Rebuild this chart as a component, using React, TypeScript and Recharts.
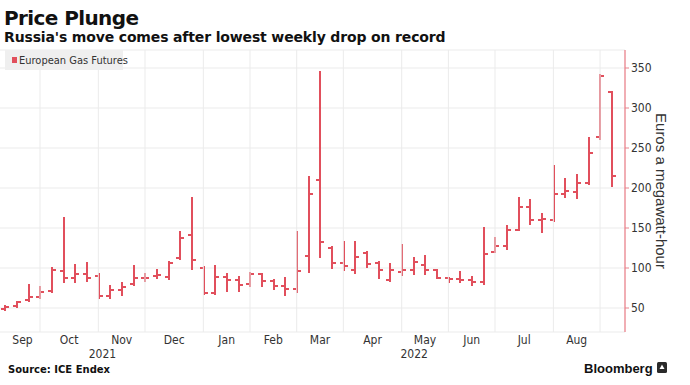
import { ComposedChart, Bar, XAxis, YAxis, CartesianGrid, ReferenceLine } from 'recharts';

// weekly bars, dated by the Friday that ends each week
const weeks = [
  '2021-09-03', '2021-09-10', '2021-09-17', '2021-09-24',
  '2021-10-01', '2021-10-08', '2021-10-15', '2021-10-22', '2021-10-29',
  '2021-11-05', '2021-11-12', '2021-11-19', '2021-11-26',
  '2021-12-03', '2021-12-10', '2021-12-17', '2021-12-24', '2021-12-31',
  '2022-01-07', '2022-01-14', '2022-01-21', '2022-01-28',
  '2022-02-04', '2022-02-11', '2022-02-18', '2022-02-25',
  '2022-03-04', '2022-03-11', '2022-03-18', '2022-03-25',
  '2022-04-01', '2022-04-08', '2022-04-15', '2022-04-22', '2022-04-29',
  '2022-05-06', '2022-05-13', '2022-05-20', '2022-05-27',
  '2022-06-03', '2022-06-10', '2022-06-17', '2022-06-24',
  '2022-07-01', '2022-07-08', '2022-07-15', '2022-07-22', '2022-07-29',
  '2022-08-05', '2022-08-12', '2022-08-19', '2022-08-26',
  '2022-09-02',
];

const open = [
  49, 52, 60, 64, 71, 96, 88, 93, 90, 65, 72, 80, 88, 90, 89, 112, 141, 100,
  69, 89, 85, 80, 92, 84, 78, 74, 115, 210, 125, 106, 98, 119, 106, 85, 95,
  97, 104, 98, 87, 86, 85, 82, 120, 128, 148, 176, 160, 160, 192, 195, 206,
  264, 320,
];
const high = [
  52, 58, 79, 76, 100, 162, 104, 106, 92, 77, 81, 102, 93, 97, 108, 145, 187,
  101, 102, 92, 89, 94, 92, 85, 88, 145, 214, 345, 126, 132, 133, 120, 108,
  105, 129, 112, 115, 98, 88, 95, 89, 150, 137, 153, 187, 185, 168, 228, 211,
  216, 263, 341, 320,
];
const low = [
  48, 51, 59, 63, 70, 83, 83, 84, 63, 62, 66, 79, 84, 88, 86, 111, 99, 68, 67,
  71, 71, 78, 77, 74, 66, 70, 95, 114, 100, 98, 94, 101, 87, 84, 91, 93, 93,
  88, 82, 82, 79, 80, 120, 124, 147, 155, 145, 159, 189, 188, 205, 261, 203,
];
const close = [
  51, 57, 64, 70, 98, 88, 93, 88, 65, 72, 76, 88, 88, 91, 106, 138, 110, 69,
  89, 85, 79, 92, 84, 78, 74, 96, 193, 132, 106, 102, 114, 105, 97, 97, 97,
  107, 98, 88, 86, 85, 82, 118, 128, 147, 176, 160, 161, 192, 196, 206, 244,
  340, 215,
];

const monthTicks = [1.5, 5.5, 10, 14.5, 19, 23, 27, 31.5, 36, 40, 44.5, 49];
const monthLabels = ['Sep', 'Oct', 'Nov', 'Dec', 'Jan', 'Feb', 'Mar', 'Apr', 'May', 'Jun', 'Jul', 'Aug'];
const yearTicks = [8.35, 35.07];
const yearLabels = ['2021', '2022'];
const priceTicks = [50, 100, 150, 200, 250, 300, 350];

const RED = '#e14f5c';
const AXIS_RED = '#e9838c';
const COND = '"DejaVu Sans Condensed", "DejaVu Sans", sans-serif';
const VERD = '"DejaVu Sans", Verdana, sans-serif';

const data = weeks.map((week, i) => ({
  i,
  week,
  open: open[i],
  high: high[i],
  low: low[i],
  close: close[i],
  range: [low[i], high[i]],
}));

// last bar of each month gets a vertical grid line
const monthEnds = weeks
  .map((w, i) => (i < weeks.length - 1 && weeks[i + 1].slice(5, 7) !== w.slice(5, 7) ? i : -1))
  .filter((i) => i >= 0);

function OhlcBar(props: any) {
  const { x, y, width, height, payload } = props;
  if (x == null || y == null || !payload) return null;
  const cx = Math.round(x + width / 2);
  const top = Math.min(y, y + height);
  const bottom = Math.max(y, y + height);
  const span = payload.high - payload.low || 1;
  const yOf = (v: number) => Math.round(top + ((payload.high - v) / span) * (bottom - top));
  const yo = yOf(payload.open);
  const yc = yOf(payload.close);
  return (
    <g stroke={RED} strokeWidth={2} fill="none">
      <line x1={cx} x2={cx} y1={Math.round(top) - 1} y2={Math.round(bottom) + 1} />
      <line x1={cx - 4} x2={cx} y1={yo} y2={yo} />
      <line x1={cx} x2={cx + 4} y1={yc} y2={yc} />
    </g>
  );
}

export default function App() {
  return (
    <div style={{ position: 'absolute', left: 0, top: 0, width: 690, height: 385, background: '#fff', overflow: 'hidden' }}>
      <ComposedChart width={690} height={385} data={data} margin={{ top: 50, right: 0, bottom: 25, left: 0 }}>
        <CartesianGrid xAxisId="m" vertical={false} stroke="#ebebeb" />
        {monthEnds.map((idx) => (
          <ReferenceLine key={idx} xAxisId="m" x={idx} stroke="#ebebeb" />
        ))}
        <XAxis
          xAxisId="m"
          dataKey="i"
          type="number"
          domain={[-0.43, 53.14]}
          allowDataOverflow
          ticks={monthTicks}
          interval={0}
          tickFormatter={(v: number) => monthLabels[monthTicks.indexOf(v)]}
          axisLine={false}
          tickLine={false}
          tickSize={0}
          tickMargin={3}
          height={14}
          tick={{ fill: '#333', fontSize: 12, fontFamily: COND }}
        />
        <XAxis
          xAxisId="yr"
          dataKey="i"
          type="number"
          domain={[-0.43, 53.14]}
          allowDataOverflow
          ticks={yearTicks}
          interval={0}
          tickFormatter={(v: number) => yearLabels[yearTicks.indexOf(v)]}
          axisLine={false}
          tickLine={false}
          tickSize={0}
          tickMargin={3}
          height={14}
          tick={{ fill: '#333', fontSize: 12, fontFamily: COND }}
        />
        <YAxis
          orientation="right"
          type="number"
          domain={[20, 372.5]}
          allowDataOverflow
          ticks={priceTicks}
          interval={0}
          width={65}
          axisLine={{ stroke: AXIS_RED, strokeWidth: 1.3 }}
          tickLine={{ stroke: AXIS_RED }}
          tickSize={4}
          tickMargin={2}
          tick={{ fill: '#333', fontSize: 12, fontFamily: COND }}
        />
        <Bar xAxisId="m" dataKey="range" barSize={8} shape={OhlcBar} isAnimationActive={false} />
      </ComposedChart>

      <svg width={690} height={385} style={{ position: 'absolute', left: 0, top: 0, pointerEvents: 'none' }}>
        <text x={4} y={25} fontFamily={VERD} fontWeight="bold" fontSize={20} letterSpacing={-0.6} fill="#111">
          Price Plunge
        </text>
        <text x={4} y={41.5} fontFamily={VERD} fontWeight="bold" fontSize={14} letterSpacing={-0.15} fill="#111">
          Russia's move comes after lowest weekly drop on record
        </text>

        <rect x={5} y={50} width={118} height={20} fill="#efefef" />
        <rect x={12} y={57} width={5} height={6} fill={RED} />
        <text x={19} y={64} fontFamily={COND} fontSize={11} fill="#333">
          European Gas Futures
        </text>

        <text
          x={661}
          y={191}
          transform="rotate(90 661 191)"
          textAnchor="middle"
          dominantBaseline="central"
          fontFamily='"Liberation Sans", Arial, sans-serif'
          fontSize={15}
          fill="#333"
        >
          Euros a megawatt-hour
        </text>

        <text x={8} y={373} fontFamily={VERD} fontWeight="bold" fontSize={10} fill="#111">
          Source: ICE Endex
        </text>
        <text x={584} y={373} fontFamily='"Liberation Sans", Arial, sans-serif' fontWeight="bold" fontSize={13} fill="#111">
          Bloomberg
        </text>
        <rect x={657} y={362} width={10} height={11} rx={1.5} fill="#2a2a2a" />
        <path d="M659.5 369 L662 364.5 L664.5 369 Z" fill="#fff" />
      </svg>
    </div>
  );
}
